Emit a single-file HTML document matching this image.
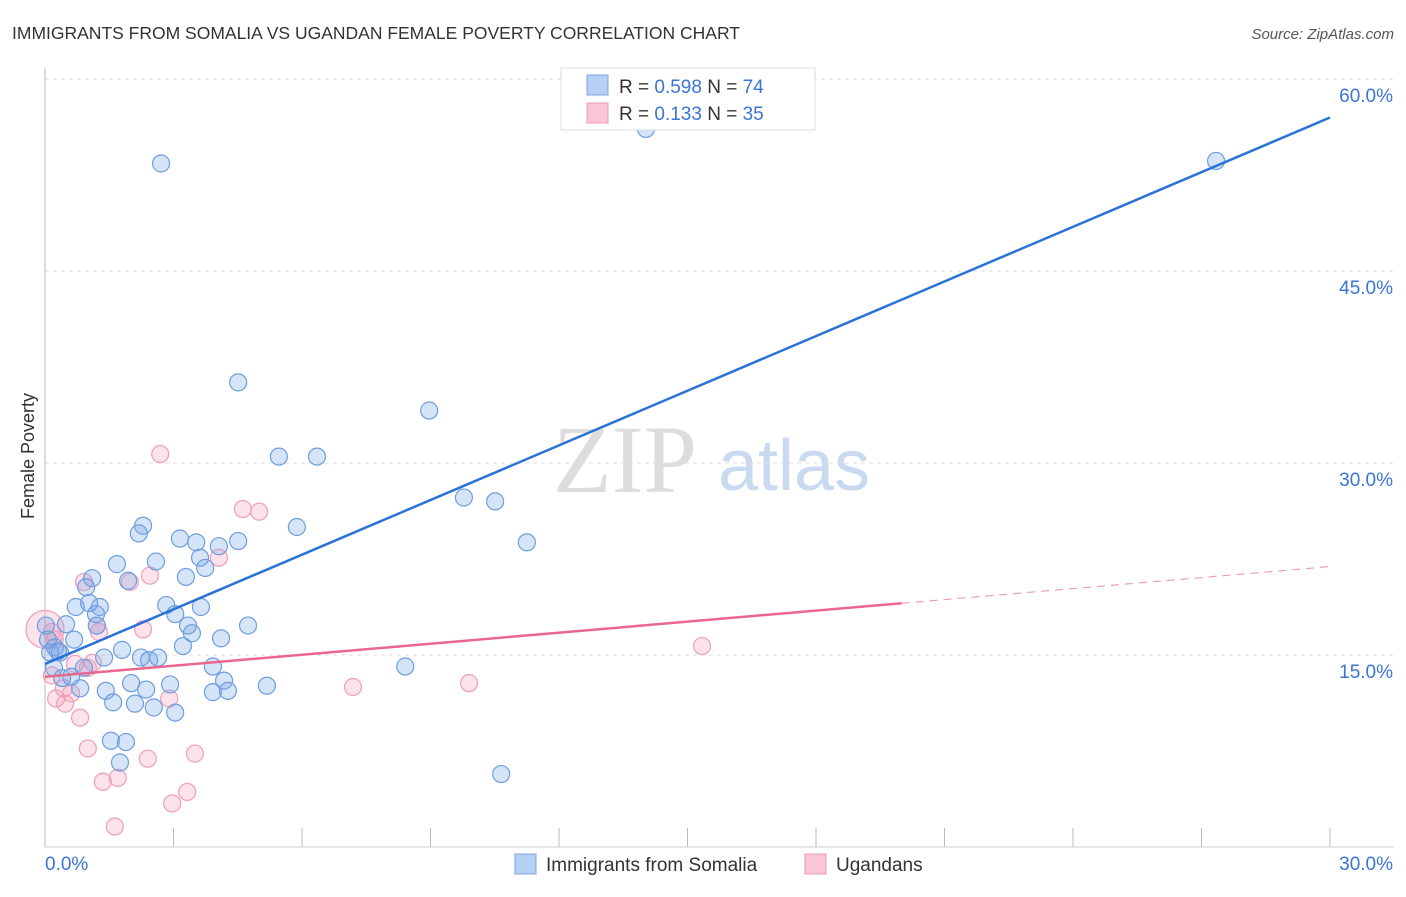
<!DOCTYPE html>
<html><head><meta charset="utf-8"><style>
body{margin:0;background:#fff;font-family:"Liberation Sans",sans-serif}
svg text{font-family:"Liberation Sans",sans-serif}
</style></head><body>
<svg id="c" width="1406" height="892">
<text x="12" y="39" font-size="17.5" fill="#333">IMMIGRANTS FROM SOMALIA VS UGANDAN FEMALE POVERTY CORRELATION CHART</text>
<text x="1394" y="39" font-size="15" fill="#555" font-style="italic" text-anchor="end">Source: ZipAtlas.com</text>
<text x="34" y="456" font-size="18" fill="#333" text-anchor="middle" transform="rotate(-90 34 456)">Female Poverty</text>
<g><text x="553" y="492" font-size="96" fill="#ddd" font-family="Liberation Serif" style="font-family:'Liberation Serif',serif">ZIP</text><text x="718" y="490" font-size="72" fill="#c9d9f0">atlas</text></g>
<g id="grid"></g><g id="axes"></g><g id="pts"></g><g id="lines"></g>
<g>
<rect x="561" y="68" width="254" height="62" fill="#fff" stroke="#ddd"/>
<rect x="587" y="75" width="21" height="20" fill="#b6d0f3" stroke="#7aa5e3"/>
<rect x="587" y="103" width="21" height="20" fill="#f9c6d5" stroke="#ee9ab5"/>
<text x="619" y="93" font-size="19" fill="#333">R = <tspan fill="#3a74d4">0.598</tspan>   N = <tspan fill="#3a74d4">74</tspan></text>
<text x="619" y="120" font-size="19" fill="#333">R =  <tspan fill="#3a74d4">0.133</tspan>   N = <tspan fill="#3a74d4">35</tspan></text>
</g>
<g>
<rect x="515" y="854" width="21" height="20" fill="#b6d0f3" stroke="#7aa5e3"/>
<text x="546" y="871" font-size="19" fill="#333">Immigrants from Somalia</text>
<rect x="805" y="854" width="21" height="20" fill="#f9c6d5" stroke="#ee9ab5"/>
<text x="836" y="871" font-size="19" fill="#333">Ugandans</text>
</g>
</svg>
<script>
const yTicks=[15,30,45,60];
const yTickLabels=["15.0%","30.0%","45.0%","60.0%"];
const xTickLabels=["0.0%","30.0%"];
const blueX=[2.71,14.03,27.34,4.51,8.97,5.46,6.35,9.78,10.51,11.25,5.88,2.29,2.19,3.15,3.53,4.51,2.59,1.68,4.06,3.62,3.74,3.29,1.10,0.96,1.94,0.72,1.28,1.03,2.83,3.04,3.64,1.19,0.49,1.21,3.34,3.43,4.74,4.11,0.68,0.23,0.35,1.80,3.22,2.24,2.43,2.64,1.38,3.92,8.41,0.21,0.91,0.40,0.61,0.82,1.42,2.01,2.36,1.59,2.10,2.54,3.04,2.92,4.18,3.92,4.27,5.18,1.54,1.89,1.75,10.65,0.07,0.12,0.30,0.02];
const blueY=[53.4,56.1,53.6,36.3,34.1,30.5,30.5,27.3,27.0,23.8,25.0,25.1,24.5,24.1,23.8,23.9,22.3,22.1,23.5,22.6,21.8,21.1,21.0,20.3,20.8,18.75,18.75,19.06,18.9,18.2,18.75,18.2,17.4,17.3,17.3,16.7,17.3,16.3,16.2,15.6,15.2,15.4,15.7,14.8,14.6,14.8,14.8,14.1,14.1,14.0,14.0,13.2,13.3,12.4,12.2,12.8,12.3,11.3,11.2,10.9,10.5,12.7,13.0,12.1,12.2,12.6,8.3,8.2,6.6,5.7,16.2,15.2,15.3,17.3];
const pinkX=[2.69,4.62,5.0,0.91,1.98,2.45,4.06,1.21,2.29,0.16,1.26,0.23,0.70,1.00,1.12,0.16,0.44,0.61,0.26,0.47,0.82,2.90,7.19,9.90,15.34,1.00,2.40,3.50,1.35,1.70,3.32,2.97,1.63,0];
const pinkY=[30.7,26.4,26.2,20.7,20.7,21.2,22.6,17.3,17.0,16.8,16.8,16.2,14.3,14.0,14.4,13.4,12.4,12.0,11.6,11.2,10.1,11.6,12.5,12.8,15.7,7.7,6.9,7.3,5.1,5.4,4.3,3.4,1.6,17.0];
const blueFit=[14.3,1.423];   // intercept, slope
const pinkFit=[13.3,0.287];
const pinkSolidEnd=20;
const X=v=>45+v*42.833, Y=v=>847-v*12.8;
const NS="http://www.w3.org/2000/svg";
function mk(p,t,a){const e=document.createElementNS(NS,t);for(const k in a)e.setAttribute(k,a[k]);document.getElementById(p).appendChild(e);return e;}
yTicks.forEach((v,i)=>{
 const g=mk('grid','line',{x1:45,x2:1394,y1:Y(v),y2:Y(v),stroke:'#ddd','stroke-dasharray':'4,4'});
 
 
 const t=mk('grid','text',{x:1393,y:Y(v)+23,'font-size':19,fill:'#3a74d4','text-anchor':'end'});
 t.textContent=yTickLabels[i];
 
 
});
const ax=mk('axes','line',{x1:45,x2:45,y1:68,y2:847,stroke:'#bbb'});


const bx=mk('axes','line',{x1:45,x2:1394,y1:847,y2:847,stroke:'#ccc'});


for(let i=1;i<=10;i++){const l=mk('axes','line',{x1:X(i*3),x2:X(i*3),y1:828,y2:847,stroke:'#bbb'});
 
 }
[[0,'start',45],[30,'end',1393]].forEach((a,i)=>{const t=mk('axes','text',{x:a[2],y:870,'font-size':19,fill:'#3a74d4','text-anchor':a[1]});t.textContent=xTickLabels[i];
 
 });
pinkX.forEach((x,i)=>{const c=mk('pts','circle',{cx:X(x),cy:Y(pinkY[i]),r:i==pinkX.length-1?19:8.5,fill:'rgba(244,150,180,0.28)',stroke:'#ef9fb9','stroke-width':1.2});
 
 });
blueX.forEach((x,i)=>{const c=mk('pts','circle',{cx:X(x),cy:Y(blueY[i]),r:8.5,fill:'rgba(120,165,230,0.3)',stroke:'#6d9de0','stroke-width':1.2});
 
 });
const bl=mk('lines','line',{x1:X(0),y1:Y(blueFit[0]),x2:X(30),y2:Y(blueFit[0]+30*blueFit[1]),stroke:'#2a72d8','stroke-width':2.5});


const pl=mk('lines','line',{x1:X(0),y1:Y(pinkFit[0]),x2:X(pinkSolidEnd),y2:Y(pinkFit[0]+pinkSolidEnd*pinkFit[1]),stroke:'#e9678f','stroke-width':2.5});


const pd=mk('lines','line',{x1:X(pinkSolidEnd),y1:Y(pinkFit[0]+pinkSolidEnd*pinkFit[1]),x2:X(30),y2:Y(pinkFit[0]+30*pinkFit[1]),stroke:'#e9a0b8','stroke-width':1.2,'stroke-dasharray':'8,6'});


</script>
</body></html>
